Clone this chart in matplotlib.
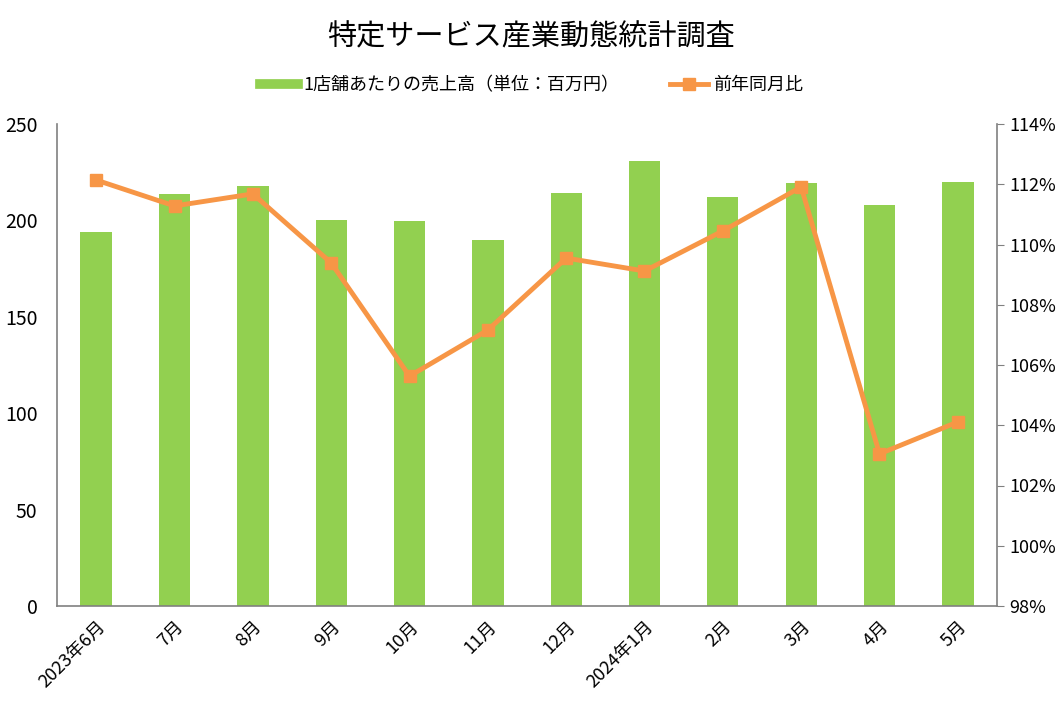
import matplotlib
matplotlib.use("Agg")
import matplotlib.pyplot as plt
from matplotlib.ticker import FuncFormatter
from matplotlib.lines import Line2D

plt.rcParams['font.family'] = ['Noto Sans CJK JP', 'DejaVu Sans']

categories = ["2023年6月", "7月", "8月", "9月", "10月", "11月", "12月",
              "2024年1月", "2月", "3月", "4月", "5月"]
sales = [194, 213.7, 217.8, 200.2, 199.7, 189.8, 214.2, 230.8, 212.1, 219.4, 208, 219.9]
yoy = [112.14, 111.28, 111.68, 109.39, 105.63, 107.16, 109.55, 109.12, 110.45, 111.91, 103.05, 104.11]

fig = plt.figure(figsize=(10.63, 7.09), dpi=100)
ax = fig.add_axes([57/1063, 1 - 606/709, (997-57)/1063, (606-124)/709])
x = list(range(len(categories)))
bar_color = '#92D050'
line_color = '#F79646'
ax.bar(x, sales, width=0.4, color=bar_color, zorder=2)
ax.set_xlim(-0.5, len(categories) - 0.5)
ax.set_ylim(0, 250)
ax.set_yticks([0, 50, 100, 150, 200, 250])
ax.set_xticks(x)
ax.set_xticklabels(categories, rotation=45, ha='right', rotation_mode='anchor', fontsize=13)
ax.tick_params(axis='y', length=0, labelsize=14, pad=14)
ax.tick_params(axis='x', length=0, pad=8)
for s in ['top', 'right']:
    ax.spines[s].set_visible(False)
for s in ['left', 'bottom']:
    ax.spines[s].set_color('#808080')
    ax.spines[s].set_linewidth(1.2)

ax2 = ax.twinx()
ax2.plot(x, yoy, color=line_color, linewidth=3.5, marker='s', markersize=9, zorder=3)
ax2.set_ylim(98, 114)
ax2.set_yticks(list(range(98, 115, 2)))
ax2.yaxis.set_major_formatter(FuncFormatter(lambda v, p: f"{int(round(v))}%"))
ax2.tick_params(axis='y', length=5, color='#808080', labelsize=13, pad=4)
for s in ['top', 'left', 'bottom']:
    ax2.spines[s].set_visible(False)
ax2.spines['right'].set_color('#808080')
ax2.spines['right'].set_linewidth(1.2)

fig.text(0.5, 1 - 37/709, '特定サービス産業動態統計調査', ha='center', va='center', fontsize=21)
h1 = Line2D([], [], color=bar_color, linewidth=7)
h2 = Line2D([], [], color=line_color, linewidth=3.5, marker='s', markersize=9)
fig.legend(handles=[h1, h2], labels=['1店舗あたりの売上高（単位：百万円）', '前年同月比'],
           loc='center', bbox_to_anchor=(0.5, 1 - 85/709), ncol=2,
           frameon=False, fontsize=13, handlelength=2.1, columnspacing=2.8, handletextpad=0.3)

fig.savefig('out.png', dpi=100)
